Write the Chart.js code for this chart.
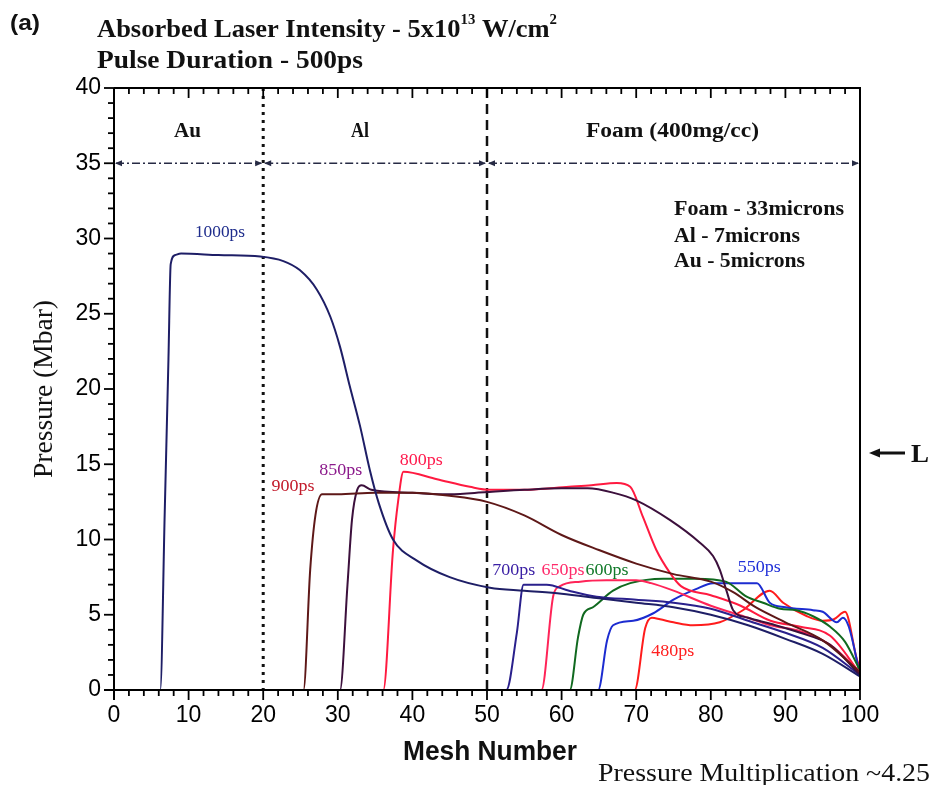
<!DOCTYPE html>
<html><head><meta charset="utf-8">
<script src="https://cdn.jsdelivr.net/npm/chart.js@4.4.0/dist/chart.umd.min.js"></script>
<style>html,body{margin:0;padding:0;background:#fff;}#wrap{width:937px;height:785px;position:relative;}</style>
</head><body><div id="wrap"><canvas id="c" width="937" height="785"></canvas></div>
<script>
// ---------- data ----------
const xTickValues = [0,10,20,30,40,50,60,70,80,90,100];
const yTickValues = [0,5,10,15,20,25,30,35,40];

const mesh1000 = [0,6.2,6.8,7.3,7.6,8.2,9,14,19.6,22.7,24.9,27.2,29,30.3,31.6,33,34.3,35.5,37.4,40.6,45,50.4,55,60,65,70,75,80,85,90,95,100];
const p1000    = [0,0,11.8,22,28.3,28.9,29.0,28.9,28.8,28.5,27.9,26.6,24.8,22.8,20.2,17.5,14.6,12.4,10.0,8.6,7.5,6.8,6.6,6.4,6.1,5.8,5.5,5.0,4.3,3.4,2.4,0.9];

const mesh900 = [0,25.4,26.3,27,27.9,30,35,40,45,50,55,60,65,70,75,80,83,86,90,95,100];
const p900    = [0,0,8,11.6,13.0,13.0,13.1,13.1,12.9,12.5,11.6,10.3,9.3,8.4,7.7,7.2,6.5,5.5,4.5,3.3,1.2];

const mesh850 = [0,30.3,31.3,31.9,32.6,33.2,34.5,40,45,50,55,60,63.5,67,70,74.5,78.5,80.3,81.2,82.1,83,85,88,92,96,100];
const p850    = [0,0,7,11.3,13.3,13.6,13.3,13.1,13.0,13.15,13.3,13.4,13.4,13.1,12.6,11.3,9.8,8.9,8.0,6.6,5.3,4.8,4.4,3.8,3.0,1.0];

const mesh800 = [0,36.1,37.4,38.1,38.8,43.3,47.7,50.4,55,61,64,67.4,69.2,70.9,72.7,74.5,76,80,84,88,92,96,100];
const p800    = [0,0,9.3,12.6,14.5,14.0,13.5,13.3,13.3,13.5,13.6,13.75,13.5,11.5,9.3,7.8,6.9,6.3,5.6,4.6,4.2,3.6,1.1];

const mesh700 = [0,52.6,54,54.9,58,61,64.7,70,75,80,85,90,95,100];
const p700    = [0,0,3.8,7.0,7.0,6.6,6.2,6.0,5.8,5.4,4.6,3.8,2.8,1.0];

const mesh650 = [0,57.3,58.9,59.8,62.5,66,70,72,75,80,85,88,92,96,100];
const p650    = [0,0,6.3,6.9,7.2,7.3,7.3,7.1,6.6,5.6,4.8,4.3,3.9,3.0,1.2];

const mesh600 = [0,61.1,62.2,62.9,64.2,66.9,69.2,73.6,78,82,84.8,87,89.3,91.5,93.7,96,98,100];
const p600    = [0,0,3.5,5.0,5.5,6.6,7.1,7.4,7.4,7.2,6.2,5.8,5.4,5.3,4.9,4.2,3.2,1.3];

const mesh550 = [0,64.9,66.1,66.9,69.6,72.3,75,78,80.3,86.2,87.9,90,93.7,95,96.9,97.7,98.5,100];
const p550    = [0,0,3.3,4.3,4.6,5.1,6.0,6.7,7.1,7.1,5.8,5.5,5.3,5.2,4.5,4.8,4.2,1.0];

const mesh480 = [0,69.8,71.2,72.1,73.2,75,77.6,81.2,84.3,87.9,89.7,92.9,95,96.5,98,99.6,100];
const p480    = [0,0,4.1,4.8,4.7,4.5,4.3,4.5,5.3,6.6,5.8,4.9,4.6,4.7,5.2,2.0,1.5];

const curveNames  = ['1000ps','900ps','850ps','800ps','700ps','650ps','600ps','550ps','480ps'];
const labelMesh   = [14.2,24.0,30.4,41.2,53.6,60.2,66.1,86.5,74.9];
const labelP      = [30.4,13.55,14.6,15.3,8.0,8.0,8.0,8.2,2.6];

const regionEdges = [0,20,50,100];
const regionNames = ['Au','Al','Foam (400mg/cc)'];
const regionLabelP = 37.2;
const regionLineP = 35;

// ---------- styles ----------
const lineColors  = ['#1e1e66','#5e1818','#3c103c','#ff1a40','#2a208c','#ff2458','#10691f','#1c2cd0','#ff1c1c'];
const labelColors = ['#1f2d8c','#c21a2a','#8c1a8c','#ff1a4c','#3a1fa4','#ff2a6a','#127a2a','#2030d8','#ff2020'];
const meshSets = [mesh1000,mesh900,mesh850,mesh800,mesh700,mesh650,mesh600,mesh550,mesh480];
const pSets    = [p1000,p900,p850,p800,p700,p650,p600,p550,p480];

const datasets = meshSets.map((m,i)=>({
  label: curveNames[i],
  data: m.map((v,j)=>({x:v,y:pSets[i][j]})),
  showLine:true, pointRadius:0, borderWidth:2,
  borderColor: lineColors[i], backgroundColor: lineColors[i],
  cubicInterpolationMode:'monotone', fill:false
}));

function fitText(ctx, txt, x, y, font, color, w, align){
  ctx.save(); ctx.font=font; ctx.fillStyle=color; ctx.textBaseline='alphabetic'; ctx.textAlign='left';
  const nat = ctx.measureText(txt).width; const s = w ? w/nat : 1;
  const x0 = align==='center' ? x - nat*s/2 : (align==='right' ? x - nat*s : x);
  ctx.translate(x0,y); ctx.scale(s,1); ctx.fillText(txt,0,0); ctx.restore();
}
function arrowHead(ctx, x, y, dir, len, half){
  ctx.beginPath(); ctx.moveTo(x,y); ctx.lineTo(x-dir*len,y-half); ctx.lineTo(x-dir*len,y+half); ctx.closePath(); ctx.fill();
}

const SERIF = '"Liberation Serif", "Times New Roman", serif';
const SANS  = '"Liberation Sans", Arial, sans-serif';

const deco = {
  id:'deco',
  beforeDatasetsDraw(chart){
    const {ctx, scales:{x,y}} = chart;
    const top = y.getPixelForValue(40), bot = y.getPixelForValue(0);
    ctx.save();
    ctx.strokeStyle='#111'; ctx.lineWidth=3; ctx.setLineDash([3,5]);
    let px = x.getPixelForValue(regionEdges[1]);
    ctx.beginPath(); ctx.moveTo(px,top); ctx.lineTo(px,bot); ctx.stroke();
    ctx.lineWidth=2.5; ctx.setLineDash([10,6]);
    px = x.getPixelForValue(regionEdges[2]);
    ctx.beginPath(); ctx.moveTo(px,top); ctx.lineTo(px,bot); ctx.stroke();
    const py = y.getPixelForValue(regionLineP);
    ctx.strokeStyle='#262a44'; ctx.fillStyle='#262a44'; ctx.lineWidth=1.6;
    for(let i=0;i<3;i++){
      const a = x.getPixelForValue(regionEdges[i]), b = x.getPixelForValue(regionEdges[i+1]);
      ctx.setLineDash([8,3,2,3]);
      ctx.beginPath(); ctx.moveTo(a+2,py); ctx.lineTo(b-2,py); ctx.stroke();
      ctx.setLineDash([]);
      arrowHead(ctx, a+1, py, -1, 7, 3);
      arrowHead(ctx, b-1, py, 1, 7, 3);
    }
    ctx.restore();
  },
  afterDraw(chart){
    const {ctx, scales:{x,y}, chartArea:ca} = chart;
    ctx.save();
    ctx.strokeStyle='#000'; ctx.lineWidth=2; ctx.setLineDash([]);
    ctx.beginPath(); ctx.moveTo(ca.left,ca.top); ctx.lineTo(ca.right,ca.top); ctx.lineTo(ca.right,ca.bottom); ctx.stroke();
    ctx.beginPath(); ctx.moveTo(ca.left,ca.top); ctx.lineTo(ca.left,ca.bottom+10); ctx.stroke();
    ctx.beginPath(); ctx.moveTo(ca.left-10,ca.bottom); ctx.lineTo(ca.right,ca.bottom); ctx.stroke();
    ctx.lineWidth=1.8;
    for(let v=0; v<=100; v+=2){
      const px=x.getPixelForValue(v); const major = v%10===0; const L = major?10:6;
      ctx.beginPath(); ctx.moveTo(px,ca.bottom); ctx.lineTo(px,ca.bottom+L); ctx.stroke();
      ctx.beginPath(); ctx.moveTo(px,ca.top); ctx.lineTo(px,ca.top+L); ctx.stroke();
    }
    for(let v=0; v<=40; v+=1){
      const py=y.getPixelForValue(v); const major = v%5===0; const L = major?10:6;
      ctx.beginPath(); ctx.moveTo(ca.left-L,py); ctx.lineTo(ca.left+1,py); ctx.stroke();
    }
    for(let i=0;i<3;i++){
      const cx = x.getPixelForValue((regionEdges[i]+regionEdges[i+1])/2) + (i===0?-1:(i===1?-15:-1));
      const w = [27,18,173][i];
      fitText(ctx, regionNames[i], cx, y.getPixelForValue(regionLabelP)+7, 'bold 20px '+SERIF, '#111', w, 'center');
    }
    for(let i=0;i<curveNames.length;i++){
      fitText(ctx, curveNames[i], x.getPixelForValue(labelMesh[i]), y.getPixelForValue(labelP[i])+5,
        '17px '+SERIF, labelColors[i], i===0?50:43, 'center');
    }
    fitText(ctx,'Foam - 33microns',674,215,'bold 22px '+SERIF,'#111',170);
    fitText(ctx,'Al - 7microns',674,242,'bold 22px '+SERIF,'#111',126);
    fitText(ctx,'Au - 5microns',674,267,'bold 22px '+SERIF,'#111',131);
    fitText(ctx,'(a)',10,30,'bold 22px '+SANS,'#111',30);
    ctx.font='bold 25px '+SERIF;
    const p1='Absorbed Laser Intensity - 5x10', p2='13', p3=' W/cm', p4='2';
    const w1=ctx.measureText(p1).width, w3=ctx.measureText(p3).width;
    ctx.font='bold 14px '+SERIF;
    const w2=ctx.measureText(p2).width, w4=ctx.measureText(p4).width;
    const s = 460/(w1+w2+w3+w4);
    ctx.save(); ctx.translate(97,37); ctx.scale(s,1); ctx.fillStyle='#111';
    ctx.font='bold 25px '+SERIF; ctx.fillText(p1,0,0);
    ctx.font='bold 14px '+SERIF; ctx.fillText(p2,w1,-13);
    ctx.font='bold 25px '+SERIF; ctx.fillText(p3,w1+w2,0);
    ctx.font='bold 14px '+SERIF; ctx.fillText(p4,w1+w2+w3,-13);
    ctx.restore();
    fitText(ctx,'Pulse Duration - 500ps',97,68,'bold 25px '+SERIF,'#111',266);
    fitText(ctx,'Mesh Number',490,760,'bold 27px '+SANS,'#111',174,'center');
    fitText(ctx,'Pressure Multiplication ~4.25',598,781,'26px '+SERIF,'#111',332);
    ctx.save(); ctx.translate(52,389); ctx.rotate(-Math.PI/2);
    fitText(ctx,'Pressure (Mbar)',0,0,'27px '+SERIF,'#111',178,'center');
    ctx.restore();
    ctx.fillStyle='#111'; ctx.strokeStyle='#111'; ctx.lineWidth=3;
    ctx.beginPath(); ctx.moveTo(878,453); ctx.lineTo(905,453); ctx.stroke();
    arrowHead(ctx, 869, 453, -1, 11, 4.5);
    fitText(ctx,'L',911,462,'bold 25px '+SERIF,'#111',18);
    ctx.restore();
  }
};

new Chart(document.getElementById('c'), {
  type:'scatter',
  data:{datasets},
  options:{
    responsive:false, animation:false, devicePixelRatio:1,
    layout:{padding:{top:88,right:77,left:0,bottom:0}},
    plugins:{legend:{display:false}, title:{display:false}, tooltip:{enabled:false}},
    scales:{
      x:{type:'linear', min:0, max:100,
         afterBuildTicks:(s)=>{s.ticks=xTickValues.map(v=>({value:v}));},
         afterFit:(s)=>{s.height=95;},
         grid:{display:false, drawTicks:false}, border:{display:false},
         ticks:{padding:12, color:'#000', font:{family:'Liberation Sans', size:23}, maxRotation:0}},
      y:{type:'linear', min:0, max:40,
         afterBuildTicks:(s)=>{s.ticks=yTickValues.map(v=>({value:v}));},
         afterFit:(s)=>{s.width=114;},
         grid:{display:false, drawTicks:false}, border:{display:false},
         ticks:{padding:13, color:'#000', font:{family:'Liberation Sans', size:23}}}
    }
  },
  plugins:[deco]
});
</script></body></html>
